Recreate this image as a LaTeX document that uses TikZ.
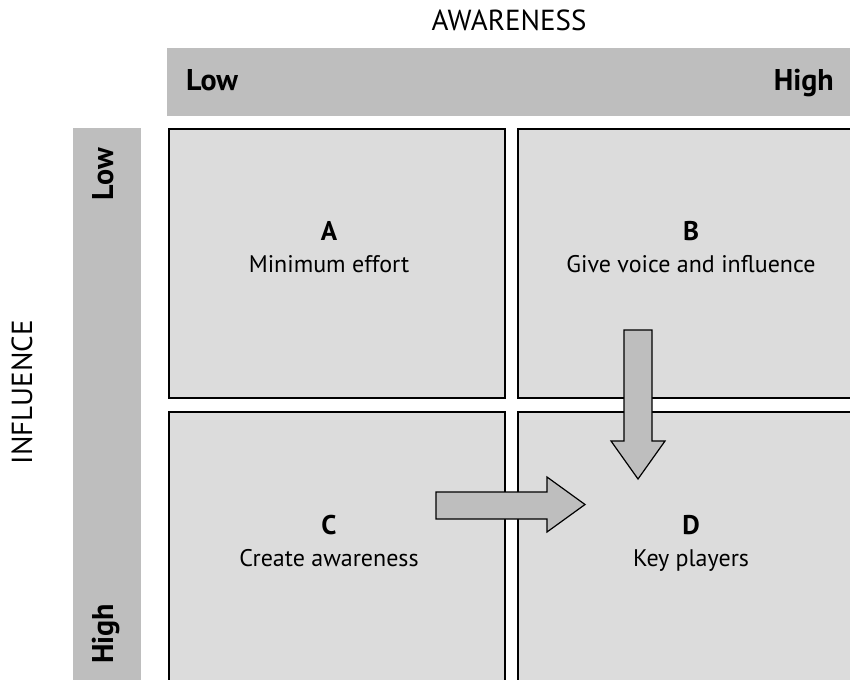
\documentclass[tikz,border=0pt]{standalone}
\usepackage{fontspec}
\setmainfont{PT Sans}
\begin{document}
\begin{tikzpicture}[x=1pt,y=-1pt,
  quad/.style={fill=quadg,draw=black,line width=1.5pt},
  arr/.style={fill=barg,draw=black,line width=1.2pt,line join=miter},
  axis/.style={font=\fontsize{29}{32}\selectfont},
  endlab/.style={inner sep=0pt,font=\fontsize{30}{32}\bfseries\selectfont},
  letter/.style={anchor=base,inner sep=0pt,font=\fontsize{27}{30}\bfseries\selectfont},
  desc/.style={anchor=base,inner sep=0pt,font=\fontsize{24}{28}\selectfont}]
\definecolor{barg}{HTML}{BEBEBE}
\definecolor{quadg}{HTML}{DCDCDC}
\useasboundingbox (0,0) rectangle (850,679);
\clip (0,0) rectangle (850,679);
% bars
\fill[barg] (167,48) rectangle (860,116);
\node[inner sep=0] (topbar) at (513,82) {};
\fill[barg] (73,128) rectangle (141,690);
\node[inner sep=0] (leftbar) at (107,400) {};
% quadrants
\draw[quad] (169,129) rectangle (505,398);
\draw[quad] (518,129) rectangle (870,398);
\draw[quad] (169,412) rectangle (505,700);
\draw[quad] (518,412) rectangle (870,700);
\node (A) at (329,240) [letter] {A};
\node (Ad) at (329,272) [desc] {Minimum effort};
\node (B) at (691,240) [letter] {B};
\node (Bd) at (691,272) [desc] {Give voice and influence};
\node (C) at (329,534) [letter] {C};
\node (Cd) at (329,566) [desc] {Create awareness};
\node (D) at (691,534) [letter] {D};
\node (Dd) at (691,566) [desc] {Key players};
% axis titles
\node (aw) at (509,20) [axis] {AWARENESS};
\node (inf) at (22,392) [axis,rotate=90] {INFLUENCE};
\node (lowx) at (186,91) [endlab,anchor=base west] {Low};
\node (highx) at (834,91) [endlab,anchor=base east] {High};
\node (lowy) at (113,148) [endlab,rotate=90,anchor=base east] {Low};
\node (highy) at (113,664) [endlab,rotate=90,anchor=base west] {High};
% arrows
\draw[arr] (624,330) -- (652,330) -- (652,441) -- (665,441) -- (638,479) -- (611,441) -- (624,441) -- cycle;
\draw[arr] (436,492) -- (547,492) -- (547,477) -- (585,504.5) -- (547,532) -- (547,519) -- (436,519) -- cycle;
\end{tikzpicture}
\end{document}
